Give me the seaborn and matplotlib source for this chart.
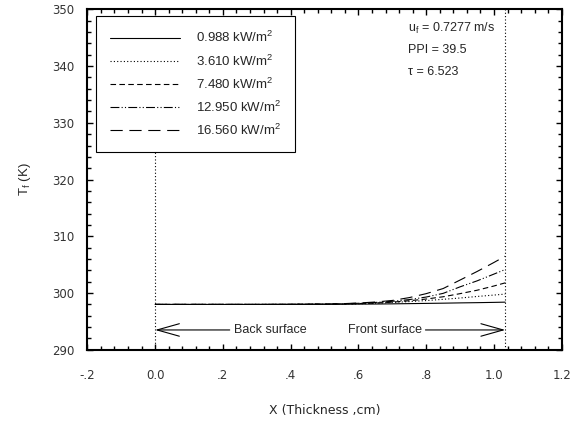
import pandas as pd
import matplotlib
matplotlib.use("Agg")
import matplotlib.pyplot as plt
import seaborn as sns

# thickness positions (cm)
x = [0.0, 0.1, 0.2, 0.3, 0.4, 0.5, 0.55, 0.6, 0.65, 0.7, 0.75, 0.8, 0.85, 0.9, 0.95, 1.0, 1.033]

# fluid temperature (K) for each heat flux
t_0988 = [298.0, 298.0, 298.0, 298.0, 298.0, 298.02, 298.03, 298.05, 298.07, 298.1, 298.14, 298.18, 298.22, 298.27, 298.31, 298.36, 298.4]
t_3610 = [298.0, 298.0, 298.0, 298.0, 298.02, 298.04, 298.06, 298.1, 298.2, 298.35, 298.5, 298.68, 298.9, 299.13, 299.4, 299.65, 299.82]
t_7480 = [298.0, 298.0, 298.0, 298.0, 298.02, 298.05, 298.08, 298.15, 298.25, 298.4, 298.65, 298.95, 299.35, 299.9, 300.5, 301.25, 301.8]
t_12950 = [298.0, 298.0, 298.0, 298.0, 298.02, 298.06, 298.1, 298.2, 298.35, 298.55, 298.85, 299.3, 299.95, 301.1, 302.15, 303.35, 304.15]
t_16560 = [298.0, 298.0, 298.0, 298.0, 298.02, 298.06, 298.12, 298.25, 298.42, 298.7, 299.2, 299.9, 300.8, 302.3, 303.8, 305.4, 306.5]

flux_labels = [
    "0.988 kW/m$^2$",
    "3.610 kW/m$^2$",
    "7.480 kW/m$^2$",
    "12.950 kW/m$^2$",
    "16.560 kW/m$^2$",
]

xtick_vals = [-0.2, 0.0, 0.2, 0.4, 0.6, 0.8, 1.0, 1.2]
xtick_labels = ["-.2", "0.0", ".2", ".4", ".6", ".8", "1.0", "1.2"]
ytick_vals = [290, 300, 310, 320, 330, 340, 350]

back_x = 0.0
front_x = 1.033

# long-form table
frames = []
for label, temps in zip(flux_labels, [t_0988, t_3610, t_7480, t_12950, t_16560]):
    frames.append(pd.DataFrame({"x": x, "T": temps, "flux": label}))
df = pd.concat(frames, ignore_index=True)

sns.set_style("ticks")
plt.rcParams["font.family"] = ["Liberation Sans", "DejaVu Sans"]
plt.rcParams["mathtext.default"] = "regular"

fig = plt.figure(figsize=(5.78, 4.23), dpi=100)
ax = fig.add_axes([0.151, 0.173, 0.821, 0.805])

dash_map = {
    flux_labels[0]: "",
    flux_labels[1]: (1, 2),
    flux_labels[2]: (5, 3),
    flux_labels[3]: (8, 2, 1, 2, 1, 2),
    flux_labels[4]: (11, 6),
}

sns.lineplot(
    data=df, x="x", y="T", style="flux", dashes=dash_map,
    color="black", linewidth=0.8, ax=ax, legend=True
)

# dotted surface markers
ax.axvline(back_x, color="black", ls=(0, (1, 2)), lw=0.8, zorder=1)
ax.axvline(front_x, color="black", ls=(0, (1, 2)), lw=0.8, zorder=1)

ax.set_xlim(-0.2, 1.2)
ax.set_ylim(290, 350)
ax.set_xticks(xtick_vals)
ax.set_xticklabels(xtick_labels, family="DejaVu Sans", fontsize=8.5)
ax.set_xticks([v / 100 for v in range(-20, 121, 4)], minor=True)
ax.set_yticks(ytick_vals)
ax.set_yticklabels([str(v) for v in ytick_vals], family="DejaVu Sans", fontsize=8.5)
ax.set_yticks(list(range(290, 351, 2)), minor=True)
ax.tick_params(which="both", direction="in", top=True, right=True, width=1.0, colors="black")
ax.tick_params(which="major", length=4.5)
ax.tick_params(which="minor", length=3)
ax.tick_params(axis="x", which="major", pad=14, labelcolor="#333333")
ax.tick_params(axis="y", which="major", pad=9, labelcolor="#333333")
for s in ax.spines.values():
    s.set_linewidth(1.5)
    s.set_color("black")

ax.set_xlabel("X (Thickness ,cm)", family="DejaVu Sans", fontsize=9, labelpad=16)
ax.set_ylabel("T$_f$ (K)", fontsize=9.5, labelpad=14)

leg = ax.legend(
    loc="upper left", bbox_to_anchor=(0.018, 0.981), borderaxespad=0,
    fontsize=9.5, handlelength=5.3, handletextpad=1.2, labelspacing=0.6,
    borderpad=1.1, fancybox=False, edgecolor="black", framealpha=1, title=None
)
leg.get_frame().set_linewidth(0.8)
leg.set_zorder(5)

# flow parameters
ax.text(0.746, 346.6, "u$_f$ = 0.7277 m/s", fontsize=9, va="center")
ax.text(0.746, 342.9, "PPI = 39.5", fontsize=9, va="center")
ax.text(0.746, 339.0, "τ = 6.523", fontsize=9, va="center")

arrow = dict(arrowstyle="->, head_length=1.6, head_width=0.45", color="black",
             lw=0.8, shrinkA=1, shrinkB=0, mutation_scale=10)
ax.annotate("Back surface", xy=(back_x, 293.5), xytext=(0.234, 293.5),
            ha="left", va="center", fontsize=9, arrowprops=arrow)
ax.annotate("Front surface", xy=(front_x, 293.5), xytext=(0.788, 293.5),
            ha="right", va="center", fontsize=9, arrowprops=dict(arrow, shrinkA=0))

fig.savefig("out.png", dpi=100)
